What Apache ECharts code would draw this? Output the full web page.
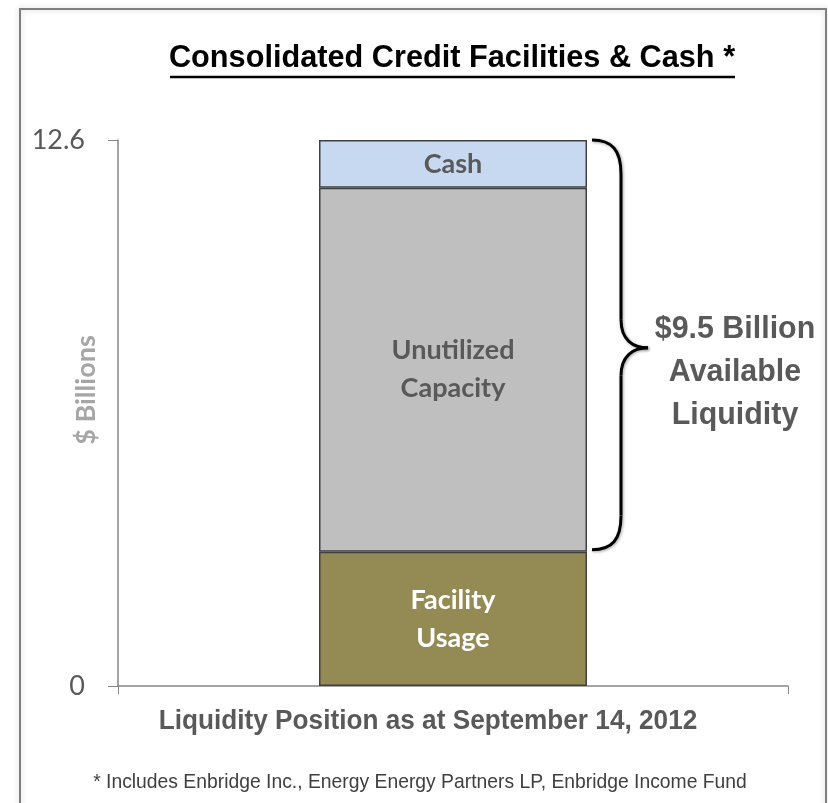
<!DOCTYPE html>
<html>
<head>
<meta charset="utf-8">
<script src="https://cdn.jsdelivr.net/npm/echarts@6/dist/echarts.min.js"></script>
<style>
html, body { margin: 0; padding: 0; background: #fff; }
#chart { width: 828px; height: 803px; }
</style>
</head>
<body>
<div id="chart"></div>
<script>
// values in $ billions
var categories = ['Liquidity Position as at September 14, 2012'];
var facilityUsage = [3.1];
var unutilizedCapacity = [8.4];
var cash = [1.1];
var yTicks = [0, 12.6];
var availableText = '$9.5 Billion\nAvailable\nLiquidity';

var arial = '"Liberation Sans", Arial, sans-serif';
var soft = 'Lato, "Open Sans", sans-serif';

var chart = echarts.init(document.getElementById('chart'));

var barLabel = function(color) {
  return {
    show: true,
    position: 'inside',
    formatter: function(p) { return p.seriesName; },
    color: color,
    fontFamily: soft,
    fontWeight: 'bold',
    fontSize: 27,
    lineHeight: 38
  };
};

chart.setOption({
  animation: false,
  grid: { left: 118, right: 40, top: 140, bottom: 117 },
  xAxis: {
    type: 'category',
    data: categories,
    axisLine: { lineStyle: { color: '#868686', width: 1.5 } },
    axisTick: { show: true, length: 8, lineStyle: { color: '#868686' } },
    axisLabel: { show: false }
  },
  yAxis: {
    type: 'value',
    min: yTicks[0],
    max: yTicks[1],
    interval: yTicks[1] - yTicks[0],
    axisLine: { show: true, lineStyle: { color: '#868686', width: 1.5 } },
    axisTick: { show: true, length: 10, lineStyle: { color: '#868686' } },
    splitLine: { show: false },
    axisLabel: {
      margin: 33,
      color: '#595959',
      fontFamily: soft,
      fontSize: 27,
      formatter: function(v) { return v === 0 ? '0' : String(v); }
    }
  },
  series: [
    {
      name: 'Facility\nUsage', type: 'bar', stack: 'total', barWidth: 268,
      data: facilityUsage,
      itemStyle: { color: '#948a54', borderColor: '#404040', borderWidth: 1.5 },
      label: barLabel('#ffffff')
    },
    {
      name: 'Unutilized\nCapacity', type: 'bar', stack: 'total', barWidth: 268,
      data: unutilizedCapacity,
      itemStyle: { color: '#bfbfbf', borderColor: '#404040', borderWidth: 1.5 },
      label: barLabel('#595959')
    },
    {
      name: 'Cash', type: 'bar', stack: 'total', barWidth: 268,
      data: cash,
      itemStyle: { color: '#c6d9f1', borderColor: '#404040', borderWidth: 1.5 },
      label: barLabel('#595959')
    }
  ]
});

// brace + annotation positioned from the axis scale
var topVal = facilityUsage[0] + unutilizedCapacity[0] + cash[0];
var pTop = chart.convertToPixel({ gridIndex: 0 }, [0, topVal]);
var pBot = chart.convertToPixel({ gridIndex: 0 }, [0, facilityUsage[0]]);
var x0 = pTop[0] + 134 + 5;
var y0 = pTop[1], y1 = pBot[1] - 2;
var ym = (y0 + y1) / 2 + 3;
var xs = x0 + 29, xt = x0 + 56;
var braceStyle = { fill: 'none', stroke: '#000', lineWidth: 3, shadowBlur: 3, shadowColor: 'rgba(0,0,0,0.35)', shadowOffsetX: 1, shadowOffsetY: 1 };
var curve = function(a, b, c, d) {
  return {
    type: 'bezierCurve', silent: true,
    shape: { x1: a[0], y1: a[1], cpx1: b[0], cpy1: b[1], cpx2: c[0], cpy2: c[1], x2: d[0], y2: d[1] },
    style: braceStyle
  };
};
var seg = function(a, b) {
  return { type: 'line', silent: true, shape: { x1: a[0], y1: a[1], x2: b[0], y2: b[1] }, style: braceStyle };
};

var mid = pTop[0];
var labelY = chart.convertToPixel({ gridIndex: 0 }, [0, 0])[1] + 36;

chart.setOption({
  graphic: [
    {
      type: 'rect', silent: true, z: -10,
      shape: { x: 20, y: 9, width: 806, height: 820 },
      style: { fill: 'none', stroke: '#7f7f7f', lineWidth: 2, shadowBlur: 6, shadowColor: 'rgba(0,0,0,0.2)' }
    },
    {
      type: 'text', x: 452, y: 58, scaleX: 0.99,
      style: {
        text: 'Consolidated Credit Facilities & Cash *', align: 'center', verticalAlign: 'middle',
        fill: '#000', font: 'bold 31px ' + arial
      }
    },
    {
      type: 'line', silent: true,
      shape: { x1: 170, y1: 77, x2: 735, y2: 77 },
      style: { stroke: '#000', lineWidth: 2.5 }
    },
    {
      type: 'text', x: 86, y: 390, rotation: Math.PI / 2,
      style: {
        text: '$ Billions', align: 'center', verticalAlign: 'middle',
        fill: '#a6a6a6', font: 'bold 27px ' + soft
      }
    },
    curve([x0, y0], [x0 + 20, y0], [xs, y0 + 10], [xs, y0 + 34]),
    seg([xs, y0 + 34], [xs, ym - 28]),
    curve([xs, ym - 28], [xs, ym - 8], [xs + 12, ym], [xt, ym]),
    curve([xt, ym], [xs + 12, ym], [xs, ym + 8], [xs, ym + 28]),
    seg([xs, ym + 28], [xs, y1 - 34]),
    curve([xs, y1 - 34], [xs, y1 - 10], [x0 + 20, y1], [x0, y1]),
    {
      type: 'text', x: 735, y: ym + 24, scaleX: 0.95,
      style: {
        text: availableText, align: 'center', verticalAlign: 'middle',
        fill: '#595959', font: 'bold 32px ' + arial, lineHeight: 43
      }
    },
    {
      type: 'text', x: mid - 25, y: labelY, scaleX: 0.97,
      style: {
        text: categories[0], align: 'center', verticalAlign: 'middle',
        fill: '#595959', font: 'bold 27px ' + arial
      }
    },
    {
      type: 'text', x: 420, y: 782, scaleX: 0.92,
      style: {
        text: '* Includes Enbridge Inc., Energy Energy Partners LP, Enbridge Income Fund',
        align: 'center', verticalAlign: 'middle',
        fill: '#404040', font: '21px ' + arial
      }
    }
  ]
});
</script>
</body>
</html>
